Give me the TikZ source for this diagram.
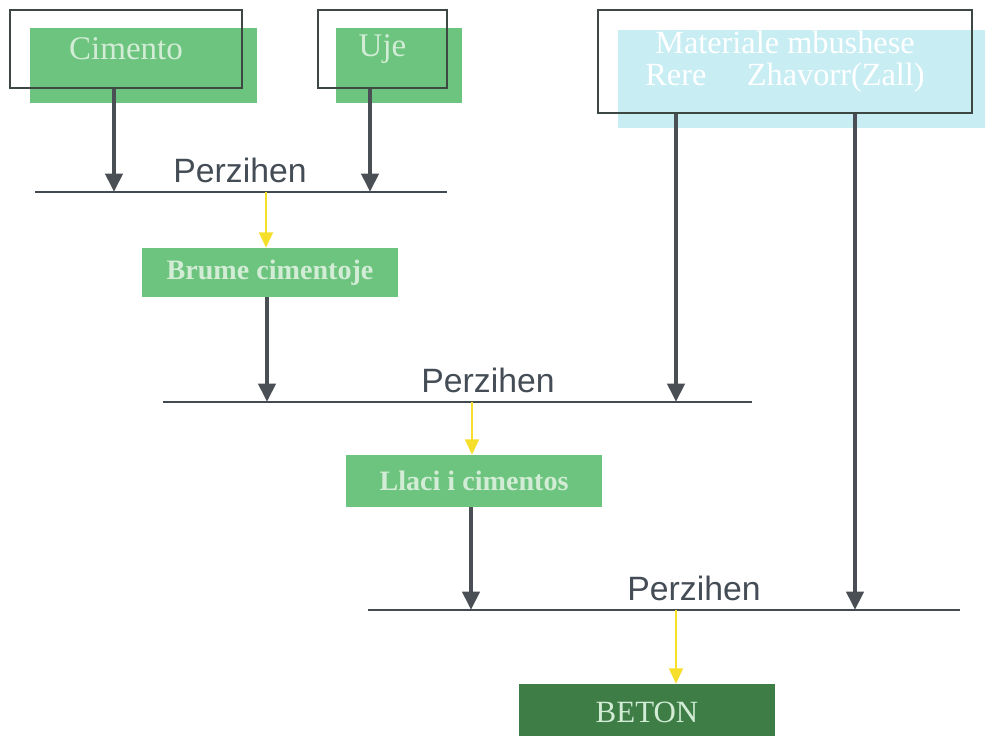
\documentclass[tikz,border=0pt]{standalone}
\usepackage{fontspec}
\setmainfont{Liberation Serif}
\setsansfont{Liberation Sans}
\usetikzlibrary{arrows.meta}

\definecolor{boxgreen}{HTML}{6CC47E}
\definecolor{darkgreen}{HTML}{3E7D46}
\definecolor{lightcyan}{HTML}{C8EEF4}
\definecolor{framegray}{HTML}{3D4842}
\definecolor{arrowgray}{HTML}{4A4F55}
\definecolor{linegray}{HTML}{424A52}
\definecolor{mixyellow}{HTML}{F5DF2A}
\definecolor{textgray}{HTML}{444C55}
\definecolor{paletext}{HTML}{D2ECD6}

\begin{document}
\begin{tikzpicture}[
	frame/.style={draw=framegray,line width=2.1pt,inner sep=0pt},
	shade box/.style={fill=#1,draw=none,inner sep=0pt},
	stepbox/.style={fill=boxgreen,inner sep=0pt,minimum width=6.4cm,text=paletext,font=\bfseries\fontsize{20}{24}\selectfont},
	basetext/.style={text=paletext,font=\fontsize{23.5}{26}\selectfont},
	mixline/.style={draw=linegray,line width=2pt},
	mixlabel/.style={anchor=base,text=textgray,font=\sffamily\fontsize{24}{28}\selectfont},
	feed/.style={draw=arrowgray,line width=2.8pt,-{Triangle[width=12pt,length=13pt]}},
	result/.style={draw=mixyellow,line width=1.3pt,-{Triangle[width=10pt,length=11pt]}}]
	\useasboundingbox (0,0) rectangle (24.7,-18.4);

	% raw materials
	\node[shade box=boxgreen,minimum width=5.675cm,minimum height=1.875cm] at (3.5875,-1.6375) {};
	\node[frame,minimum width=5.8cm,minimum height=1.95cm,basetext] (cimento) at (3.15,-1.225) {Cimento};
	\node[shade box=boxgreen,minimum width=3.15cm,minimum height=1.875cm] at (9.975,-1.6375) {};
	\node[frame,minimum width=3.225cm,minimum height=1.95cm,basetext] (uje) at (9.5625,-1.225) {Uje};
	\node[shade box=lightcyan,minimum width=9.175cm,minimum height=2.45cm] at (20.0375,-1.975) {};
	\node[frame,minimum width=9.35cm,minimum height=2.575cm,align=center,text=white,font=\fontsize{23}{23}\selectfont] (material) at (19.625,-1.5375) {Materiale mbushese\\Rere \quad Zhavorr(Zall)};

	% mixing lines
	\coordinate (mixA) at (0.875,-4.8);
	\coordinate (mixAend) at (11.175,-4.8);
	\coordinate (mixB) at (4.075,-10.05);
	\coordinate (mixBend) at (18.8,-10.05);
	\coordinate (mixC) at (9.2,-15.25);
	\coordinate (mixCend) at (24.0,-15.25);
	\draw[mixline] (mixA) -- (mixAend);
	\draw[mixline] (mixB) -- (mixBend);
	\draw[mixline] (mixC) -- (mixCend);
	\node[mixlabel] (labA) at (6.0,-4.575) {Perzihen};
	\node[mixlabel] (labB) at (12.2,-9.825) {Perzihen};
	\node[mixlabel] (labC) at (17.35,-15.025) {Perzihen};

	% intermediate products
	\node[stepbox,minimum height=1.225cm] (brume) at (6.75,-6.8125) {Brume cimentoje};
	\node[stepbox,minimum height=1.3cm] (llaci) at (11.85,-12.025) {Llaci i cimentos};
	\node[stepbox,fill=darkgreen,minimum height=1.4cm,font=\fontsize{22}{24}\selectfont] (beton) at (16.175,-17.8) {BETON};

	% feed arrows
	\coordinate (inA1) at (2.85,-4.8);
	\coordinate (inA2) at (9.25,-4.8);
	\coordinate (inB1) at (6.675,-10.05);
	\coordinate (inB2) at (16.9,-10.05);
	\coordinate (inC1) at (11.775,-15.25);
	\coordinate (inC2) at (21.375,-15.25);
	\draw[feed] (cimento.south -| inA1) -- (inA1);
	\draw[feed] (uje.south -| inA2) -- (inA2);
	\draw[feed] (brume.south -| inB1) -- (inB1);
	\draw[feed] (material.south -| inB2) -- (inB2);
	\draw[feed] (llaci.south -| inC1) -- (inC1);
	\draw[feed] (material.south -| inC2) -- (inC2);

	% results of mixing
	\coordinate (outA) at (6.65,-4.8);
	\coordinate (outB) at (11.8,-10.05);
	\coordinate (outC) at (16.9,-15.25);
	\draw[result] (outA) -- (brume.north -| outA);
	\draw[result] (outB) -- (llaci.north -| outB);
	\draw[result] (outC) -- (beton.north -| outC);
\end{tikzpicture}
\end{document}
